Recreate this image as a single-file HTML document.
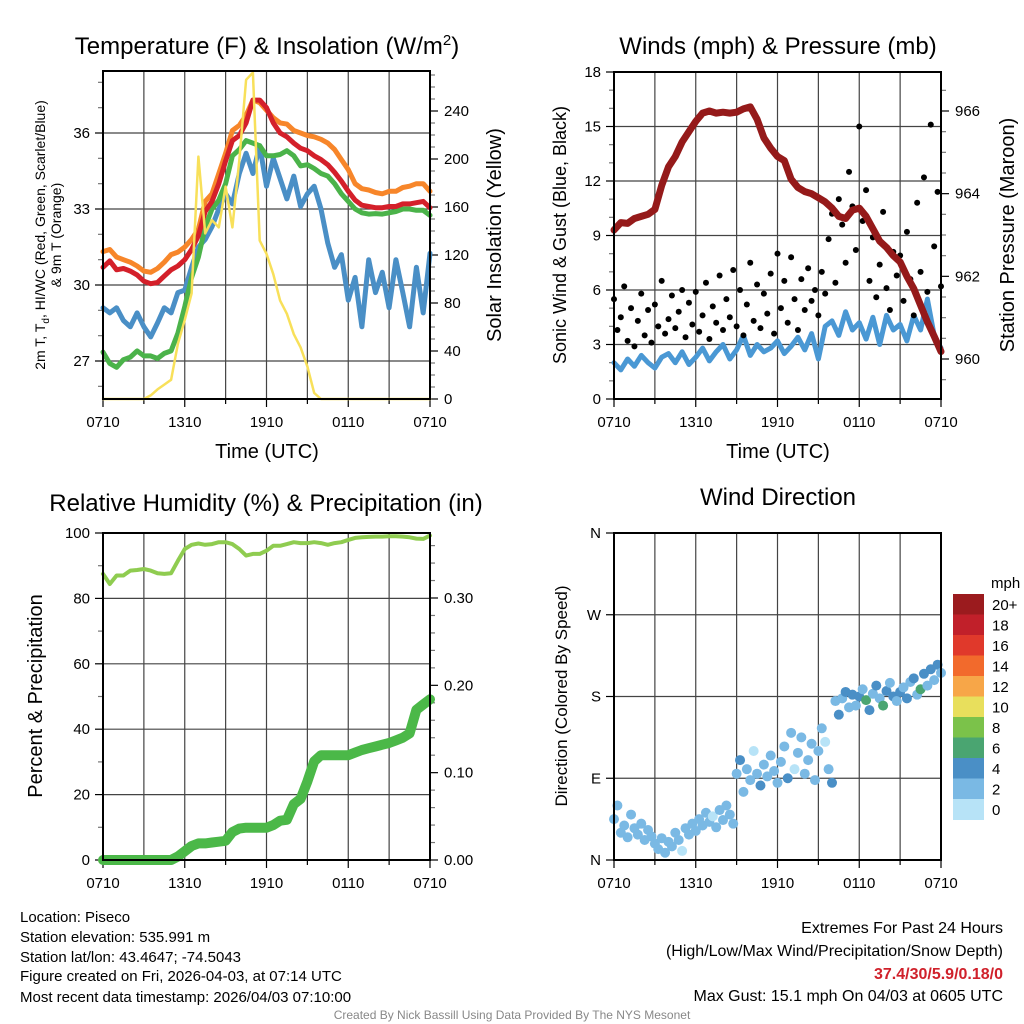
<!DOCTYPE html>
<html><head><meta charset="utf-8">
<style>
html,body{margin:0;padding:0;background:#fff;}
svg{display:block;font-family:"Liberation Sans",Arial,sans-serif;}
</style></head>
<body>
<svg id="chart" width="1024" height="1024" viewBox="0 0 1024 1024" xmlns="http://www.w3.org/2000/svg">
<rect width="1024" height="1024" fill="#fff"/>
<g id="p1"></g>
<g id="p2"></g>
<g id="p3"></g>
<g id="p4"></g>

<text x="267" y="54" font-size="24" text-anchor="middle">Temperature (F) &amp; Insolation (W/m<tspan dy="-9" font-size="15">2</tspan><tspan dy="9">)</tspan></text>
<text x="778" y="54" font-size="24" text-anchor="middle">Winds (mph) &amp; Pressure (mb)</text>
<text x="266" y="511" font-size="24" text-anchor="middle">Relative Humidity (%) &amp; Precipitation (in)</text>
<text x="778" y="505" font-size="24" text-anchor="middle">Wind Direction</text>

<text x="267" y="458" font-size="20" text-anchor="middle">Time (UTC)</text>
<text x="778" y="458" font-size="20" text-anchor="middle">Time (UTC)</text>

<text transform="translate(45,235) rotate(-90)" font-size="14" text-anchor="middle">2m T, T<tspan dy="4" font-size="10">d</tspan><tspan dy="-4">, HI/WC (Red, Green, Scarlet/Blue)</tspan></text>
<text transform="translate(61,235) rotate(-90)" font-size="14" text-anchor="middle">&amp; 9m T (Orange)</text>
<text transform="translate(501,235) rotate(-90)" font-size="20" text-anchor="middle">Solar Insolation (Yellow)</text>
<text transform="translate(566,235) rotate(-90)" font-size="18" text-anchor="middle">Sonic Wind &amp; Gust (Blue, Black)</text>
<text transform="translate(1014,235) rotate(-90)" font-size="20" text-anchor="middle">Station Pressure (Maroon)</text>
<text transform="translate(42,696) rotate(-90)" font-size="20" text-anchor="middle">Percent &amp; Precipitation</text>
<text transform="translate(567,696) rotate(-90)" font-size="17" text-anchor="middle">Direction (Colored By Speed)</text>

<g id="colorbar"></g>
<text x="991" y="588" font-size="15">mph</text>

<g font-size="15">
<text x="20" y="922">Location: Piseco</text>
<text x="20" y="942">Station elevation: 535.991 m</text>
<text x="20" y="962">Station lat/lon: 43.4647; -74.5043</text>
<text x="20" y="981">Figure created on Fri, 2026-04-03, at 07:14 UTC</text>
<text x="20" y="1002">Most recent data timestamp: 2026/04/03 07:10:00</text>
</g>
<g font-size="16" text-anchor="end">
<text x="1003" y="933">Extremes For Past 24 Hours</text>
<text x="1003" y="956">(High/Low/Max Wind/Precipitation/Snow Depth)</text>
<text x="1003" y="979" fill="#d0212b" font-weight="bold">37.4/30/5.9/0.18/0</text>
<text x="1003" y="1001">Max Gust: 15.1 mph On 04/03 at 0605 UTC</text>
</g>
<text x="512" y="1019" font-size="12" fill="#888" text-anchor="middle">Created By Nick Bassill Using Data Provided By The NYS Mesonet</text>
</svg>
<script>
// ---------- data ----------
const timeLabels = ["0710","1310","1910","0110","0710"];
// half-hourly series (49 points, 0..24 h)
const temp9m = [31.32,31.4,31.1,31.0,30.9,30.75,30.55,30.5,30.65,30.9,31.2,31.3,31.5,31.8,32.2,33.3,33.6,34.4,35.2,36.1,36.3,36.7,37.3,37.2,36.9,36.6,36.4,36.35,36.1,36.0,35.9,35.85,35.75,35.6,35.35,34.95,34.55,34.0,33.8,33.75,33.65,33.6,33.7,33.7,33.85,33.9,34.0,34.0,33.7];
const temp2m = [30.7,30.95,30.6,30.65,30.55,30.4,30.15,30.05,30.1,30.35,30.6,30.75,31.0,31.4,31.95,32.9,33.3,34.0,34.9,35.7,35.9,36.4,37.3,37.3,37.0,36.4,36.0,35.85,35.6,35.4,35.3,35.1,34.95,34.75,34.45,34.1,33.7,33.35,33.15,33.1,33.05,33.05,33.1,33.1,33.2,33.2,33.25,33.3,33.05];
const dewpoint = [27.35,26.9,26.75,27.05,27.15,27.4,27.2,27.2,27.1,27.3,27.4,28.1,29.15,30.3,31.1,32.3,33.0,33.35,34.0,35.1,35.35,35.7,35.6,35.5,35.1,35.1,35.15,35.3,35.1,34.7,34.75,34.6,34.4,34.3,34.0,33.6,33.3,33.0,32.85,32.8,32.82,32.8,32.85,32.9,33.0,33.0,32.95,32.95,32.75];
const windChill = [29.1,28.9,29.1,28.6,28.35,28.9,28.35,27.95,28.5,29.1,28.9,29.7,29.8,30.7,31.5,31.8,32.3,33.0,33.6,33.2,34.4,35.2,34.4,35.5,33.9,35.0,34.2,33.4,34.3,33.1,33.6,33.9,33.0,31.65,30.7,31.2,29.4,30.3,28.35,31.0,29.7,30.5,29.1,31.0,29.7,28.35,30.7,28.9,31.25];
const insolation = [0,0,0,0,0,0,0,3,8,12,16,46,66,88,202,138,149,143,177,143,199,266,272,132,121,104,82,71,54,43,27,5,0,0,0,0,0,0,0,0,0,0,0,0,0,0,0,0,0];
const sonicWind = [2.0,1.6,2.2,1.8,2.4,2.0,1.7,2.3,2.5,2.0,2.6,1.9,2.3,2.8,2.1,2.6,3.0,2.2,2.7,3.5,2.4,3.0,2.6,2.8,3.2,2.5,2.9,3.4,2.7,3.6,2.2,4.0,4.3,3.5,4.8,3.8,4.2,3.3,4.5,3.0,4.6,3.8,4.1,3.2,4.6,3.8,5.5,3.5,2.8];
// 15-minute gusts (97 points)
const gusts = [5.5,3.8,4.5,6.2,3.2,5.0,2.9,4.3,5.8,3.5,4.9,3.1,
5.2,4.0,6.5,3.6,4.4,5.7,3.9,4.8,6.0,3.4,5.3,4.1,
5.9,3.7,4.6,6.4,3.3,5.1,4.2,6.8,3.8,5.5,4.5,7.1,
4.0,6.0,3.5,5.2,7.5,4.3,6.3,3.9,5.8,4.7,6.9,3.6,
8.0,5.0,6.5,4.2,7.8,5.5,3.8,6.6,4.9,7.2,5.4,6.0,
4.6,7.0,5.8,8.8,10.2,6.4,11.0,9.6,7.5,12.5,10.6,8.2,
15.0,9.8,11.5,6.5,8.9,5.6,7.4,10.3,6.1,4.9,8.1,6.8,
7.9,5.4,9.2,6.6,4.6,10.8,7.0,12.2,5.9,15.1,8.4,11.4,6.2];
// half-hourly pressure (49 points)
const pressure = [963.12,963.3,963.28,963.4,963.45,963.5,963.62,964.2,964.65,964.9,965.25,965.5,965.75,965.95,966.0,965.95,965.97,965.95,965.97,966.05,966.1,965.8,965.35,965.1,964.9,964.8,964.35,964.15,964.05,964.0,963.9,963.8,963.65,963.45,963.4,963.6,963.65,963.45,963.15,962.85,962.7,962.5,962.35,962.0,961.7,961.3,960.9,960.55,960.18];
const humidity = [87.5,84.4,87,87,88.5,88.7,89,88.5,87.7,87.5,87.7,91.5,95.1,96.4,96.8,96.4,96.6,97.2,97.2,96.6,95.1,93.1,93.6,93.6,94.6,96.1,96.1,96.6,97.2,96.9,96.9,97.2,96.9,96.4,96.9,97.2,97.9,98.5,98.7,98.8,98.9,98.9,99,99,98.9,98.7,98.3,98.2,99.2];
const precip = [0,0,0,0,0,0,0,0,0,0,0,0.004,0.01,0.016,0.019,0.019,0.02,0.021,0.022,0.032,0.036,0.037,0.037,0.037,0.037,0.04,0.045,0.046,0.064,0.07,0.09,0.113,0.12,0.12,0.12,0.12,0.12,0.123,0.126,0.128,0.13,0.132,0.134,0.137,0.14,0.145,0.172,0.178,0.184];
// 15-minute wind direction (deg) and speed (mph), 97 points
const windDir = [45,60,30,38,25,50,35,28,40,22,33,26,
18,12,24,8,20,15,30,22,10,35,28,40,
32,45,38,52,42,48,36,55,44,60,50,40,
95,110,75,100,88,120,95,82,105,92,115,98,
85,108,125,90,140,100,118,135,95,110,128,88,
120,145,130,100,85,175,160,178,185,168,182,170,
180,188,176,165,183,192,178,170,186,195,180,175,
185,190,178,196,200,182,188,205,192,210,198,215,206];
const windSpd = [2.2,2.8,2.5,3.0,2.6,2.4,3.1,2.9,2.6,2.2,2.7,2.3,
3.0,2.5,2.8,2.1,2.7,2.9,2.3,3.0,1.8,2.4,2.5,3.2,
2.3,2.9,2.6,3.1,2.8,1.6,3.2,2.5,2.9,2.4,3.0,2.6,
3.0,4.2,2.4,3.6,2.8,1.4,3.3,4.1,2.6,3.0,2.2,3.7,
2.5,3.1,2.0,4.0,2.7,1.2,3.4,2.6,3.8,2.2,2.9,2.5,
2.8,2.4,1.0,3.2,4.5,3.8,4.2,2.6,4.6,3.3,4.4,2.9,
4.3,3.6,6.2,4.5,2.8,4.8,3.9,6.5,4.2,3.1,4.7,2.7,
4.4,3.2,4.9,2.5,4.6,3.5,6.3,4.1,2.9,4.8,3.6,4.3,2.4];
const speedBins = ["0","2","4","6","8","10","12","14","16","18","20+"];
const binColors = ["#b7e3f7","#7ab9e4","#4a8fc6","#4aa571","#7bc24a","#e8df5c","#f7a648","#f26a2c","#e0392b","#c1202a","#9b1b1e"];
const dirLabels = ["N","E","S","W","N"];

// ---------- helpers ----------
const NS="http://www.w3.org/2000/svg";
function mk(parent,tag,attrs){const e=document.createElementNS(NS,tag);for(const k in attrs)e.setAttribute(k,attrs[k]);parent.appendChild(e);return e;}
function linScale(d0,d1,r0,r1){return v=>r0+(v-d0)*(r1-r0)/(d1-d0);}
function tSeries(arr){return arr.map((v,i)=>[i*24/(arr.length-1),v]);}
function pathD(pts,xs,ys){return pts.map((p,i)=>(i?"L":"M")+xs(p[0]).toFixed(1)+","+ys(p[1]).toFixed(1)).join("");}

function frame(g,L,R,T,B,xs){
  for(let h=3;h<24;h+=3){
    const l=mk(g,"line",{x1:xs(h),x2:xs(h),y1:T,y2:B,stroke:"#444","stroke-width":1.2});
    
    
  }
  for(let h=0;h<=24;h+=3){
    const tk=mk(g,"line",{x1:xs(h),x2:xs(h),y1:B,y2:B+(h%6==0?8:5),stroke:"#000","stroke-width":1.2});
    
    
  }
  timeLabels.forEach((s,i)=>{
    const t=mk(g,"text",{x:xs(i*6),y:B+28,"font-size":15,"text-anchor":"middle"});
    t.textContent=s;
    
    
  });
}
function box(g,L,R,T,B){
  const r=mk(g,"rect",{x:L,y:T,width:R-L,height:B-T,fill:"none",stroke:"#000","stroke-width":2});
  
  
}
function yAxis(g,side,X,ys,T,B,majors,minorStep,lo,hi,fmt,grid,L,R){
  for(let v=lo;v<=hi+1e-9;v+=minorStep){
    const y=ys(v); if(y<T-0.5||y>B+0.5)continue;
    const isMaj=majors.some(m=>Math.abs(m-v)<1e-6);
    const len=isMaj?8:5;
    const tk=mk(g,"line",{x1:X,x2:side=="l"?X-len:X+len,y1:y,y2:y,stroke:isMaj?"#000":"#777","stroke-width":1.2});
    
    
  }
  majors.forEach(m=>{
    const y=ys(m);
    if(grid&&y>T+1&&y<B-1){
      const gl=mk(g,"line",{x1:L,x2:R,y1:y,y2:y,stroke:"#444","stroke-width":1.2});
      
      
    }
    const t=mk(g,"text",{x:side=="l"?X-13:X+14,y:y+5,"font-size":15,"text-anchor":side=="l"?"end":"start"});
    t.textContent=fmt(m);
    
    
  });
}
function line(g,pts,xs,ys,color,w,name){
  const p=mk(g,"path",{d:pathD(pts,xs,ys),fill:"none",stroke:color,"stroke-width":w,"stroke-linejoin":"round","stroke-linecap":"round"});
  
  
  return p;
}

// ---------- panel 1 ----------
(function(){
  const g=document.getElementById("p1");
  const L=103,R=430,T=71,B=399;
  const xs=linScale(0,24,L,R);
  const yT=linScale(27,36,361,133);
  const yS=linScale(0,240,399,111);
  frame(g,L,R,T,B,xs);
  yAxis(g,"l",L,yT,T,B,[27,30,33,36],1,25,38,v=>String(v),true,L,R);
  yAxis(g,"r",R,yS,T,B,[0,40,80,120,160,200,240],10,0,270,v=>String(v),false,L,R);
  line(g,tSeries(windChill),xs,yT,"#4a8fc6",5,"windchill-line");
  line(g,tSeries(dewpoint),xs,yT,"#4bb34a",5,"dewpoint-line");
  line(g,tSeries(temp9m),xs,yT,"#f7862a",5,"temp-9m-line");
  line(g,tSeries(temp2m),xs,yT,"#d4202a",5,"temp-2m-line");
  line(g,tSeries(insolation),xs,yS,"#f8e05a",2.5,"insolation-line");
  box(g,L,R,T,B);
})();

// ---------- panel 2 ----------
(function(){
  const g=document.getElementById("p2");
  const L=614,R=941,T=72,B=399;
  const xs=linScale(0,24,L,R);
  const yW=linScale(0,18,B,T);
  const yP=linScale(960,966,359,111);
  frame(g,L,R,T,B,xs);
  yAxis(g,"l",L,yW,T,B,[0,3,6,9,12,15,18],1,0,18,v=>String(v),true,L,R);
  yAxis(g,"r",R,yP,T,B,[960,962,964,966],0.5,959,966.5,v=>String(v),false,L,R);
  line(g,tSeries(sonicWind),xs,yW,"#4a98d4",5,"sonic-wind-line");
  tSeries(gusts).forEach(p=>{
    const c=mk(g,"circle",{cx:xs(p[0]),cy:yW(p[1]),r:3,fill:"#000"});
    
    
  });
  line(g,tSeries(pressure),xs,yP,"#951a1a",7,"pressure-line");
  box(g,L,R,T,B);
})();

// ---------- panel 3 ----------
(function(){
  const g=document.getElementById("p3");
  const L=103,R=430,T=533,B=860;
  const xs=linScale(0,24,L,R);
  const yH=linScale(0,100,B,T);
  const yPr=linScale(0,0.3,860,598);
  frame(g,L,R,T,B,xs);
  yAxis(g,"l",L,yH,T,B,[0,20,40,60,80,100],10,0,100,v=>String(v),true,L,R);
  yAxis(g,"r",R,yPr,T,B,[0,0.1,0.2,0.3],0.02,0,0.37,v=>v.toFixed(2),false,L,R);
  line(g,tSeries(humidity),xs,yH,"#8fcc50",4,"humidity-line");
  line(g,tSeries(precip),xs,yPr,"#4bb848",10,"precip-line");
  box(g,L,R,T,B);
})();

// ---------- panel 4 ----------
(function(){
  const g=document.getElementById("p4");
  const L=614,R=941,T=533,B=860;
  const xs=linScale(0,24,L,R);
  const yD=linScale(0,360,B,T);
  frame(g,L,R,T,B,xs);
  yAxis(g,"l",L,yD,T,B,[0,90,180,270,360],90,0,360,v=>dirLabels[Math.round(v/90)],true,L,R);
  const pts=tSeries(windDir);
  pts.forEach((p,i)=>{
    const bin=Math.min(10,Math.floor(windSpd[i]/2));
    const c=mk(g,"circle",{cx:xs(p[0]),cy:yD(p[1]),r:5,fill:binColors[bin]});
    
    
  });
  box(g,L,R,T,B);
  const cb=document.getElementById("colorbar");
  const top=594,h=20.5;
  for(let i=0;i<11;i++){
    const idx=10-i;
    const r=mk(cb,"rect",{x:953,y:top+i*h,width:31,height:h+0.5,fill:binColors[idx]});
    
    
    const t=mk(cb,"text",{x:992,y:top+i*h+16,"font-size":15});
    t.textContent=speedBins[idx];
    
    
  }
})();
</script>
</body></html>
